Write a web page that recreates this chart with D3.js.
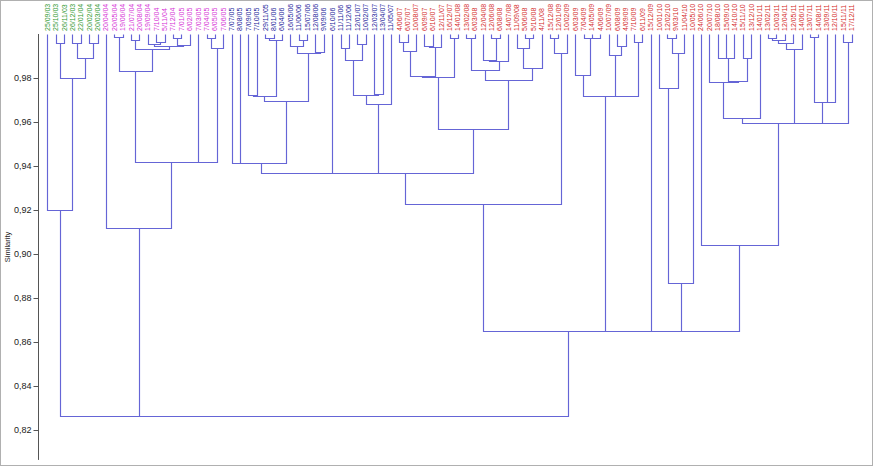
<!DOCTYPE html>
<html><head><meta charset="utf-8">
<script src="https://cdn.jsdelivr.net/npm/d3@7"></script>
<style>body{margin:0;background:#fff}svg{display:block}</style>
</head><body>
<svg id="chart" width="873" height="466"></svg>
<script>
const greenLabels = ["25/09/03","25/10/03","26/11/03","26/12/03","22/01/04","20/02/04","20/03/04"];
const magentaLabels = ["20/04/04","20/05/04","19/06/04","21/07/04","20/08/04","19/09/04","7/10/04","5/11/04","7/12/04","7/01/05","6/02/05","7/03/05","7/04/05","6/05/05","7/06/05"];
const blueLabels = ["7/07/05","8/08/05","7/09/05","7/10/05","29/11/05","8/01/06","6/04/06","16/05/06","11/06/06","15/07/06","12/08/06","9/09/06","6/10/06","11/11/06","11/12/06","12/01/07","10/02/07","12/03/07","13/04/07","11/05/07"];
const redLabels = ["4/06/07","6/07/07","10/08/07","6/09/07","6/10/07","12/11/07","16/12/07","14/01/08","13/02/08","6/03/08","12/04/08","12/06/08","6/08/08","14/07/08","11/09/08","5/06/08","5/10/08","4/11/08","15/12/08","12/01/09","10/02/09","6/03/09","7/04/09","14/05/09","4/06/09","10/07/09","6/08/09","4/09/09","7/10/09","6/11/09","15/12/09","10/01/10","12/02/10","9/03/10","11/04/10","10/05/10","24/06/10","20/07/10","18/08/10","15/09/10","14/10/10","15/11/10","13/12/10","14/01/11","13/02/11","10/03/11","12/04/11","12/05/11","14/06/11","13/07/11","14/08/11","13/09/11","12/10/11","15/11/11","17/12/11"];
const groupColors = {green:"#339933", magenta:"#d633d6", blue:"#1a1a9a", red:"#d42a2a"};
const yTicks = [0.82,0.84,0.86,0.88,0.90,0.92,0.94,0.96,0.98];

// merges: [name, childA, childB, similarity]  (numbers = leaf index, strings = earlier merge)
const merges = [
 ["g1",1,2,0.9958],["g2",3,4,0.9958],["g3",5,6,0.9958],["g4","g2","g3",0.9892],["g5","g1","g4",0.9799],["g6",0,"g5",0.9200],
 ["m1",8,9,0.9988],["m2",10,11,0.9973],["m3",13,14,0.9962],["m4",15,16,0.9983],["m5","m4",17,0.9950],["m6",12,"m3",0.9953],
 ["m7","m6","m5",0.9945],["m8","m2","m7",0.9932],["m9","m1","m8",0.9832],["m10",19,20,0.9983],["m11","m10",21,0.9935],
 ["m12",18,"m11",0.9419],["m13","m9","m12",0.9419],["m14",7,"m13",0.9118],
 ["b1",22,23,0.9414],["b2",26,27,0.9983],["b3","b2",28,0.9973],["b4",24,25,0.9721],["b5","b4","b3",0.9718],
 ["b6",30,31,0.9973],["b7",29,"b6",0.9947],["b8",32,33,0.9920],["b9","b7","b8",0.9912],["b10","b5","b9",0.9696],
 ["b11","b1","b10",0.9413],["b12",35,36,0.9935],["b13",37,38,0.9953],["b14","b12","b13",0.9882],["b15",39,40,0.9725],
 ["b16","b14","b15",0.9723],["b17","b16",41,0.9681],
 ["r1",42,43,0.9962],["r2","r1",44,0.9923],["r3",45,46,0.9945],["r4","r3",47,0.9942],["r5","r2","r4",0.9809],
 ["r6",48,49,0.9981],["r7","r5","r6",0.9806],["r8",50,51,0.9981],["r9",53,54,0.9983],["r10",52,"r9",0.9880],
 ["r11","r10",55,0.9877],["r12","r8","r11",0.9836],["r13",57,58,0.9981],["r14",56,"r13",0.9938],["r15","r14",59,0.9844],
 ["r16","r12","r15",0.9791],["r17","r7","r16",0.9568],
 ["j1","b11",34,0.9368],["j2","j1","b17",0.9368],["j3","j2","r17",0.9368],
 ["r18",60,61,0.9981],["r19","r18",62,0.9912],["j4","j3","r19",0.9227],
 ["r20",65,66,0.9983],["r21",64,"r20",0.9981],["r22",63,"r21",0.9814],["r23",68,69,0.9947],["r24",67,"r23",0.9905],
 ["r25",70,71,0.9965],["r26","r24","r25",0.9716],["r27","r22","r26",0.9716],
 ["r28",74,75,0.9981],["r29","r28",76,0.9912],["r30",73,"r29",0.9753],["r31","r30",77,0.8868],["r32",72,"r31",0.8650],
 ["r33",80,81,0.9892],["r34","r33",82,0.9890],["r35",83,84,0.9892],["r36","r34","r35",0.9785],["r37",79,"r36",0.9783],
 ["r38","r37",85,0.9620],["r39",86,87,0.9981],["r40","r39",88,0.9973],["r41","r40",89,0.9958],["r42","r41",90,0.9932],
 ["r43",91,92,0.9988],["r44",93,94,0.9690],["r45","r43","r44",0.9690],["r46",95,96,0.9965],["r47","r45","r46",0.9596],
 ["r48","r42","r47",0.9596],["r49","r38","r48",0.9596],["r50",78,"r49",0.9041],["r51","r32","r50",0.8650],
 ["r52","r27","r51",0.8650],["j5","j4","r52",0.8650],
 ["t1","g6","m14",0.8264],["t2","t1","j5",0.8264]
];

const leaves = [];
[["green",greenLabels],["magenta",magentaLabels],["blue",blueLabels],["red",redLabels]].forEach(([g,arr])=>arr.forEach(l=>leaves.push({label:l,group:g})));

const svg = d3.select("#chart");
svg.append("rect").attr("x",0.5).attr("y",0.5).attr("width",872).attr("height",465)
  .attr("fill","#fff").attr("stroke","#b0b0b0");

const x = d3.scalePoint().domain(d3.range(leaves.length)).range([47.3, 851.8]);
const y = d3.scaleLinear().domain([0.82, 0.98]).range([430, 78]);
const yMin = 0.8064;
const px = v => Math.round(v) + 0.5;

// axis
const axis = d3.axisLeft(y).tickValues(yTicks).tickSize(5).tickSizeOuter(0)
  .tickFormat(d => d3.format(".2f")(d).replace(".", ","));
const ag = svg.append("g").attr("transform","translate(38.5,0)").call(axis);
ag.select(".domain").attr("d", `M0,${y(1.0)}V${y(yMin)}`).attr("stroke","#555");
ag.selectAll(".tick line").attr("stroke","#555");
ag.selectAll(".tick text").attr("font-family","Liberation Sans, Arial, sans-serif").attr("font-size","9px").attr("fill","#222").attr("x",-7);

svg.append("text").attr("transform","translate(10,247) rotate(-90)")
  .attr("text-anchor","middle").attr("font-family","Liberation Sans, Arial, sans-serif")
  .attr("font-size","7.5px").attr("fill","#222").text("Similarity");

// nodes
const nodes = {};
function info(c){
  if (typeof c === "number") return {x:x(c), top:y(1.0)};
  return {x:nodes[c].x, top:nodes[c].y};
}
const lineColor = "#6565d6";
const lg = svg.append("g").attr("stroke",lineColor).attr("stroke-width",1.15).attr("fill","none");
merges.forEach(([name,a,b,s])=>{
  const A = info(a), B = info(b), yy = y(s);
  nodes[name] = {x:(A.x+B.x)/2, y:yy};
  lg.append("path").attr("d",`M${px(A.x)},${px(A.top)}V${px(yy)}H${px(B.x)}V${px(B.top)}`);
});

// labels
svg.append("g").selectAll("text").data(leaves).join("text")
  .attr("transform",(d,i)=>`translate(${x(i)},31) rotate(-90)`)
  .attr("dy","0.35em").attr("text-anchor","start")
  .attr("font-family","Liberation Sans, Arial, sans-serif").attr("font-size","7px")
  .attr("fill",d=>groupColors[d.group]).text(d=>d.label);
</script>
</body></html>
